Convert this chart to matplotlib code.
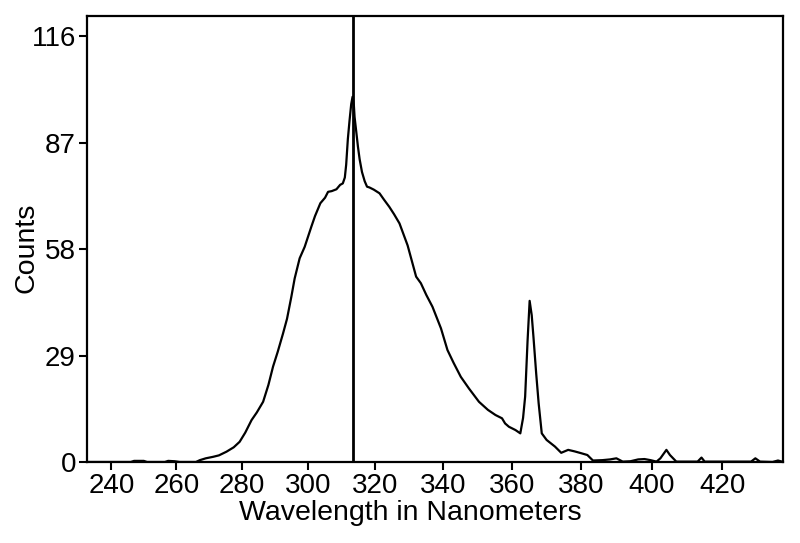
import numpy as np
import matplotlib
matplotlib.use('Agg')
import matplotlib.pyplot as plt

plt.rcParams['font.family'] = ['Liberation Sans', 'DejaVu Sans']

# spectrum (wavelength in nm, counts)
wavelength = [232.5, 246, 247, 250, 251, 256.5, 257.5, 259.5, 261, 266,
              267.2, 269, 271.2, 273, 275.3, 277.5, 279.3, 281, 282.9, 284.5,
              286.4, 288, 289.4, 290.8, 292.4, 293.6, 294.9, 295.9, 297.4, 298.9,
              300.9, 302, 303.6, 305.0, 305.9, 307, 308.4, 309.5, 310.3, 310.9,
              311.3, 311.8, 312.3, 312.8, 313.2, 313.6, 313.8, 314.3, 314.8, 315.3,
              316, 316.8, 317.5, 318.2, 319.5, 321.2, 322.5, 324.1, 325.5, 327.1,
              329.5, 332.0, 333.4, 335, 336.8, 339.3, 341.2, 343, 345.1, 347.5,
              350.4, 353, 355.2, 357.1, 358, 359.1, 361, 362.4, 363.2, 363.8,
              364.5, 365.1, 365.7, 366.2, 367, 367.7, 368.6, 370, 372.4, 374.2,
              376.2, 378, 379.9, 381.7, 383.3, 386, 388.2, 390, 391.8, 394,
              396.2, 398, 399.7, 401.4, 402.5, 404.2, 405.2, 407, 413, 414.1,
              415, 428, 429.2, 430.5, 434, 435.5, 437]
counts = [0, 0, 0.3, 0.3, 0, 0, 0.3, 0.2, 0, 0,
          0.5, 1.0, 1.4, 1.8, 2.8, 4.0, 5.5, 8.0, 11.4, 13.5,
          16.4, 21, 26, 30, 35, 39, 45, 50, 55.5, 58.6,
          64.1, 67, 70.5, 72, 73.6, 73.8, 74.3, 75.5, 75.9, 77.5,
          81, 88, 93, 97.5, 99.5, 97, 94, 90, 85.9, 82.5,
          79, 76.5, 75, 74.8, 74.2, 73.2, 71.5, 69.5, 67.5, 65,
          59, 50.5, 48.7, 45.5, 42.3, 36.4, 30.5, 27, 23.2, 20,
          16.4, 14.2, 12.8, 11.9, 10.5, 9.6, 8.7, 7.8, 12, 17.8,
          33, 43.9, 40, 34.1, 24, 16, 7.8, 6, 4.2, 2.5,
          3.3, 2.9, 2.4, 1.9, 0.4, 0.5, 0.7, 1.0, 0.1, 0.2,
          0.7, 0.8, 0.5, 0.1, 1.0, 3.3, 1.9, 0.1, 0.1, 1.2,
          0.1, 0.1, 1.0, 0.1, 0, 0.4, 0]

marker_nm = 313.2
x_ticks = [240, 260, 280, 300, 320, 340, 360, 380, 400, 420]
y_ticks = [0, 29, 58, 87, 116]

# the wavelength axis of the spectrometer is slightly non-linear
b, c = 3.224, 0.000944
def fwd(w):
    u = np.asarray(w, dtype=float) - 240
    return b * u + c * u ** 2
def inv(p):
    p = np.asarray(p, dtype=float)
    return 240 + (-b + np.sqrt(np.maximum(b * b + 4 * c * p, 0))) / (2 * c)

fig = plt.figure(figsize=(8, 5.43), dpi=100)
ax = fig.add_axes([0.10875, 0.1492, 0.87, 0.8213])
ax.set_xscale('function', functions=(fwd, inv))

ax.plot(wavelength, counts, color='black', lw=1.6)
ax.axvline(marker_nm, color='black', lw=2.0)

ax.set_xlim(232.4, 436.9)
ax.set_ylim(0, 121.5)
ax.set_xticks(x_ticks)
ax.set_xticklabels([str(t) for t in x_ticks])
ax.set_yticks(y_ticks)
ax.set_yticklabels([str(t) for t in y_ticks])
ax.minorticks_off()
ax.tick_params(labelsize=20, length=6, width=1.5, color='black', pad=2)
for s in ax.spines.values():
    s.set_linewidth(1.6)

ax.set_xlabel('Wavelength in Nanometers', fontsize=20.5)
ax.xaxis.set_label_coords(0.464, -0.085)
ax.set_ylabel('Counts', fontsize=20.5)
ax.yaxis.set_label_coords(-0.068, 0.48)

fig.savefig('out.png', dpi=100)
